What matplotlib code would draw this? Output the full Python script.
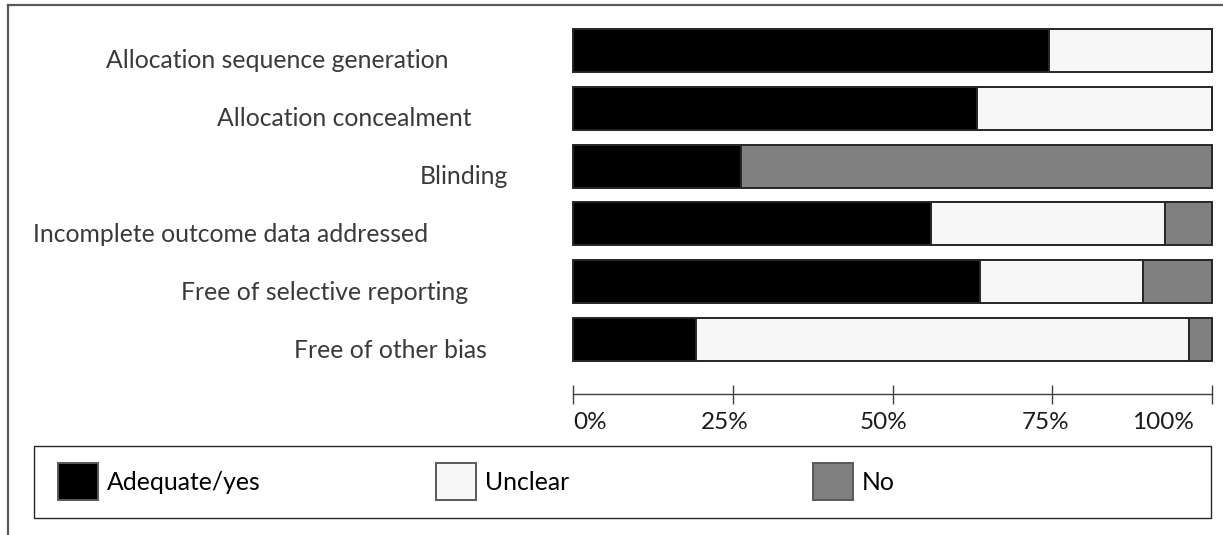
import matplotlib
matplotlib.use("Agg")
import matplotlib.pyplot as plt
from matplotlib.patches import Rectangle
from matplotlib.lines import Line2D
from matplotlib.transforms import ScaledTranslation
import numpy as np

# ---- data ----
domains = ["Allocation sequence generation", "Allocation concealment", "Blinding",
           "Incomplete outcome data addressed", "Free of selective reporting",
           "Free of other bias"]
adequate = [74.5, 63.3, 26.3, 56.0, 63.7, 19.3]
unclear = [25.5, 36.7, 0.0, 36.6, 25.5, 77.1]
no = [0.0, 0.0, 73.7, 7.4, 10.8, 3.6]
series_names = ["Adequate/yes", "Unclear", "No"]
series_colors = ["#000000", "#f7f7f7", "#808080"]
tick_values = [0, 25, 50, 75, 100]
tick_labels = ["0%", "25%", "50%", "75%", "100%"]

W, H = 1223, 535
FONT = "Lato"
FS = 17.8
FS_TICK = 17.5

def fx(x):
    return x / W

def fy(y):
    return 1 - y / H

fig = plt.figure(figsize=(W / 100, H / 100), dpi=100)

# outer frame (partially visible)
fig.add_artist(Line2D([fx(8), fx(8)], [fy(5), fy(535)], color="#595959", lw=1.6))
fig.add_artist(Line2D([fx(8), fx(1223)], [fy(5), fy(5)], color="#595959", lw=1.6))

# axes for bars
top_px, bot_px = 21.6, 368.4
ax = fig.add_axes([fx(573), fy(bot_px), fx(1212) - fx(573), (bot_px - top_px) / H])
ypos = np.arange(len(domains))
left = np.zeros(len(domains))
for vals, col in zip([adequate, unclear, no], series_colors):
    ax.barh(ypos, vals, left=left, height=0.745, color=col, edgecolor="#262626",
            linewidth=1.4, clip_on=False)
    left = left + np.array(vals)
ax.set_xlim(0, 100)
ax.set_ylim(len(domains) - 0.5, -0.5)
ax.set_yticks([])
for s in ["left", "right", "top"]:
    ax.spines[s].set_visible(False)
ax.spines["bottom"].set_position(("outward", (394 - bot_px) * 0.72))
ax.spines["bottom"].set_color("#404040")
ax.spines["bottom"].set_linewidth(1.0)
ax.set_xticks(tick_values)
ax.set_xticklabels(tick_labels, fontfamily=FONT, fontsize=FS_TICK, color="#1a1a1a")
ax.tick_params(axis="x", direction="inout", length=19 * 0.72, width=1.0,
               color="#404040", pad=6)
ax.patch.set_visible(False)

# per-label alignment like the reference
offsets_px = [0, -7.5, -9, -7, -18]
aligns = ["left", "center", "center", "center", "right"]
for lab, off, ha in zip(ax.get_xticklabels(), offsets_px, aligns):
    lab.set_ha(ha)
    lab.set_transform(lab.get_transform() + ScaledTranslation(off / 100, 0, fig.dpi_scale_trans))

# category labels
label_centers = [277, 344.5, 463.5, 231, 325, 390]
bar_centers = [50.5, 108.5, 166.5, 224, 281.5, 339.5]
for name, cx, cy in zip(domains, label_centers, bar_centers):
    fig.text(fx(cx), fy(cy + 18), name, ha="center", va="baseline",
             fontfamily=FONT, fontsize=FS, color="#3a3a3a")

# legend box
fig.add_artist(Rectangle((fx(34), fy(518)), fx(1211) - fx(34), (518 - 446) / H,
                         transform=fig.transFigure, fill=False,
                         edgecolor="#262626", lw=1.0))
leg_x = [58, 436, 813]
for name, col, lx in zip(series_names, series_colors, leg_x):
    fig.add_artist(Rectangle((fx(lx), fy(500)), 40 / W, 37 / H,
                             transform=fig.transFigure, facecolor=col,
                             edgecolor="#595959", lw=1.4))
    fig.text(fx(lx + 49), fy(482), name, ha="left", va="center",
             fontfamily=FONT, fontsize=FS, color="#000000")

fig.savefig("out.png", dpi=100)
